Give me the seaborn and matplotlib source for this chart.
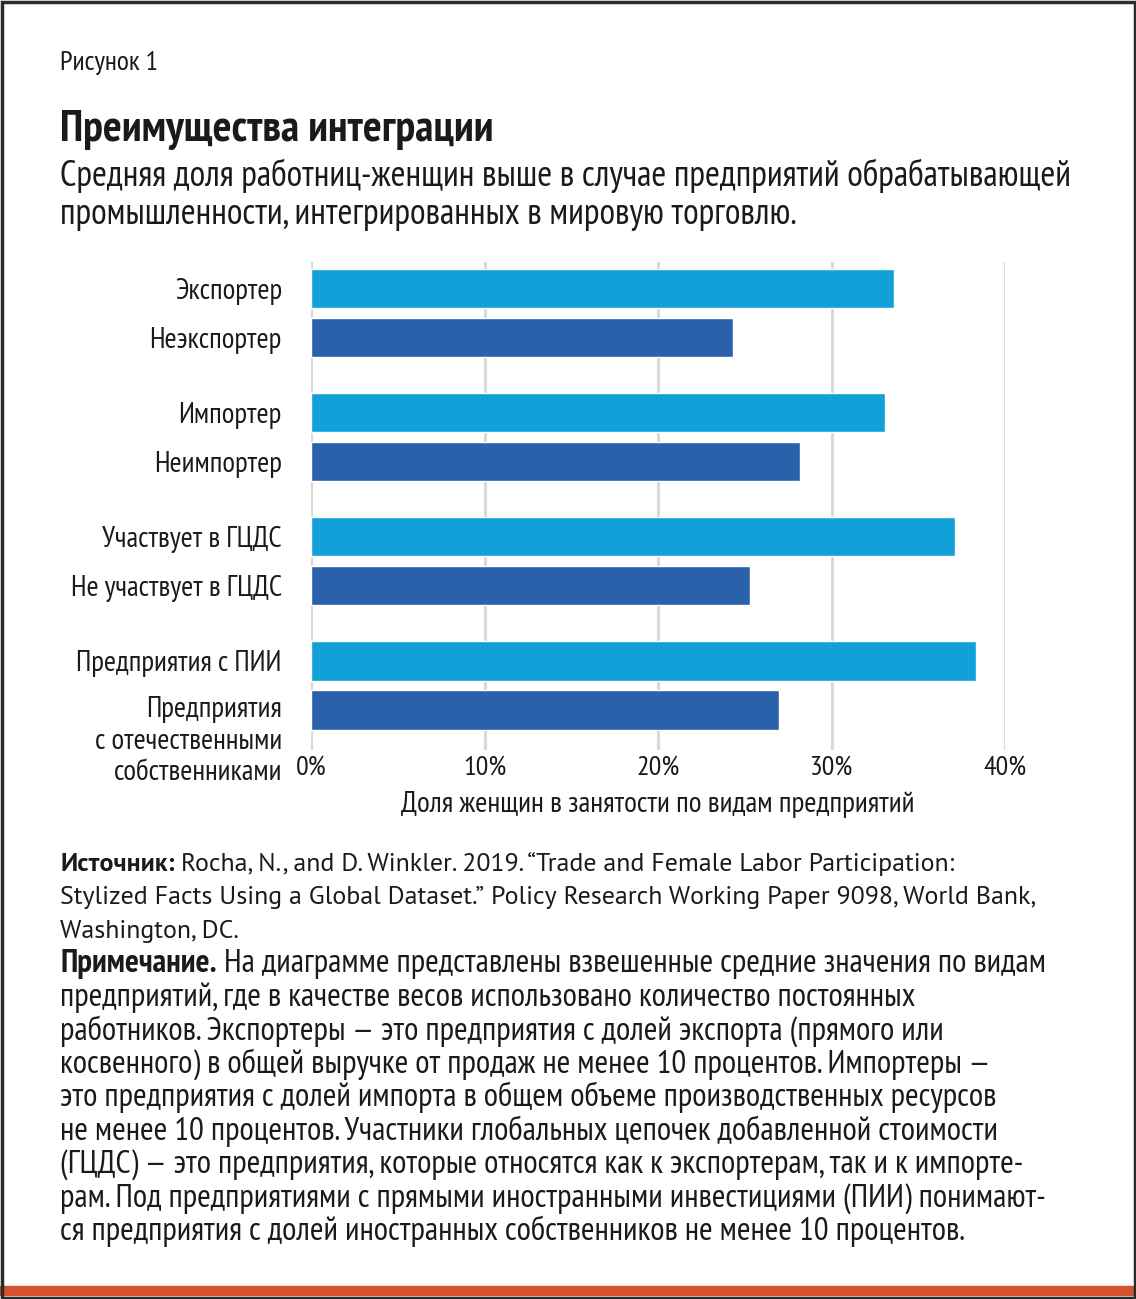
import numpy as np
import pandas as pd
import matplotlib
matplotlib.use('Agg')
import matplotlib.pyplot as plt
import seaborn as sns
from matplotlib.ticker import FuncFormatter
from matplotlib.patches import Rectangle
from matplotlib.transforms import offset_copy

# data (share of women in employment, %)
groups = ['Экспорт', 'Импорт', 'ГЦДС', 'ПИИ']
integrated_labels = ['Экспортер', 'Импортер', 'Участвует в ГЦДС', 'Предприятия с ПИИ']
other_labels = ['Неэкспортер', 'Неимпортер', 'Не участвует в ГЦДС',
                'Предприятия\nс отечественными\nсобственниками']
integrated_share = [33.6, 33.1, 37.1, 38.3]
other_share = [24.3, 28.2, 25.3, 27.0]
x_ticks = [0, 10, 20, 30, 40]

fig_label = 'Рисунок 1'
title = 'Преимущества интеграции'
subtitle = ['Средняя доля работниц-женщин выше в случае предприятий обрабатывающей',
            'промышленности, интегрированных в мировую торговлю.']
x_label = 'Доля женщин в занятости по видам предприятий'
source_lines = [
    ('Источник:', ' Rocha, N., and D. Winkler. 2019. “Trade and Female Labor Participation:'),
    ('', 'Stylized Facts Using a Global Dataset.” Policy Research Working Paper 9098, World Bank,'),
    ('', 'Washington, DC.'),
]
note_lines = [
    ('Примечание.', ' На диаграмме представлены взвешенные средние значения по видам'),
    ('', 'предприятий, где в качестве весов использовано количество постоянных'),
    ('', 'работников. Экспортеры — это предприятия с долей экспорта (прямого или'),
    ('', 'косвенного) в общей выручке от продаж не менее 10 процентов. Импортеры —'),
    ('', 'это предприятия с долей импорта в общем объеме производственных ресурсов'),
    ('', 'не менее 10 процентов. Участники глобальных цепочек добавленной стоимости'),
    ('', '(ГЦДС) — это предприятия, которые относятся как к экспортерам, так и к импорте-'),
    ('', 'рам. Под предприятиями с прямыми иностранными инвестициями (ПИИ) понимают-'),
    ('', 'ся предприятия с долей иностранных собственников не менее 10 процентов.'),
]

df = pd.DataFrame({
    'group': groups * 2,
    'kind': ['integrated'] * len(groups) + ['other'] * len(groups),
    'share': integrated_share + other_share,
})

sns.set_style('white')
narrow = ['PT Sans Narrow', 'Roboto Condensed', 'DejaVu Sans']
regular = ['PT Sans', 'Lato', 'DejaVu Sans']
plt.rcParams['font.family'] = narrow
plt.rcParams['text.color'] = '#1a1a1a'
plt.rcParams['xtick.color'] = '#1a1a1a'
plt.rcParams['ytick.color'] = '#1a1a1a'
plt.rcParams['axes.labelcolor'] = '#1a1a1a'

W, H = 1136, 1299
fig = plt.figure(figsize=(W / 100, H / 100), dpi=100)
fig.patch.set_facecolor('white')
renderer = fig.canvas.get_renderer()


def text_width(s, size, weight='normal', family=narrow):
    t = fig.text(0, 0, s, fontsize=size, fontweight=weight, family=family)
    w = t.get_window_extent(renderer=renderer).width
    t.remove()
    return w


def fit_size(parts, target_px, family=narrow, ref=20):
    # parts: list of (text, weight); size so the joined run spans target_px
    w = sum(text_width(s, ref, wt, family) for s, wt in parts if s)
    return ref * target_px / w


label_size = fit_size([('Не участвует в ГЦДС', 'normal')], 210)
tick_size = fit_size([('40%', 'normal')], 43)
xlabel_size = fit_size([(x_label, 'normal')], 511)
figlab_size = fit_size([(fig_label, 'normal')], 98)
title_size = fit_size([(title, 'bold')], 435)
sub_size = fit_size([(subtitle[0], 'normal')], 1006)
src_size = fit_size([(source_lines[0][0], 'bold'), (source_lines[0][1], 'normal')], 895, regular)
note_size = fit_size([(note_lines[0][0], 'bold'), (note_lines[0][1], 'normal')], 980)

# chart area in pixels: left 311, right 1005, top 262, bottom 750
ax = fig.add_axes([311 / W, 1 - 750 / H, (1005 - 311) / W, (750 - 262) / H])

light, dark = '#12A0D8', '#2A61AB'
bar_width = 0.79
sns.barplot(data=df, y='group', x='share', hue='kind', hue_order=['integrated', 'other'],
            palette=[light, dark], orient='h', width=bar_width, gap=0.2,
            saturation=1, legend=False, ax=ax)

ax.set_xlim(0, 40)
ax.set_ylim(3.52, -0.41)
ax.set_xticks(x_ticks)
ax.xaxis.set_major_formatter(FuncFormatter(lambda v, p: f'{v:.0f}%'))
ax.xaxis.grid(True, color='#d9d9d9', lw=2.2)
ax.yaxis.grid(False)
ax.set_axisbelow(True)
for s in ax.spines.values():
    s.set_visible(False)

# one tick label per bar
off = bar_width / 4
yt, yl = [], []
for i in range(len(groups)):
    yt += [i - off, i + off]
    yl += [integrated_labels[i], other_labels[i]]
ax.set_yticks(yt)
ax.set_yticklabels([l if '\n' not in l else '' for l in yl])
ax.tick_params(axis='y', length=0, pad=21, labelsize=label_size)
ax.tick_params(axis='x', length=0, pad=4, labelsize=tick_size)
ax.set_ylabel('')
ax.set_xlabel(x_label, fontsize=xlabel_size, labelpad=8)

# the three-line label: first line level with its bar, then 31.5 px per line
for y, l in zip(yt, yl):
    if '\n' in l:
        for k, part in enumerate(l.split('\n')):
            tr = offset_copy(ax.get_yaxis_transform(), fig=fig, x=-29, y=-31.5 * k, units='dots')
            ax.text(0, y, part, transform=tr, ha='right', va='center', fontsize=label_size)

# header texts
fig.text(60 / W, 1 - 70 / H, fig_label, fontsize=figlab_size)
fig.text(60 / W, 1 - 141 / H, title, fontsize=title_size, fontweight='bold')
for k, line in enumerate(subtitle):
    fig.text(60 / W, 1 - (186 + 38 * k) / H, line, fontsize=sub_size)


# source and note with bold lead-ins
def lead_line(y_px, bold, rest, family, size):
    x = 60 / W
    if bold:
        t = fig.text(x, 1 - y_px / H, bold, fontsize=size, fontweight='bold', family=family)
        x = t.get_window_extent(renderer=renderer).x1 / W
    fig.text(x, 1 - y_px / H, rest, fontsize=size, family=family)


pitch = 33.45
row = 0
for bold, rest in source_lines:
    lead_line(871 + pitch * row, bold, rest, regular, src_size)
    row += 1
for bold, rest in note_lines:
    lead_line(872 + pitch * row, bold, rest, narrow, note_size)
    row += 1

# frame and bottom stripe
fig.patches.append(Rectangle((0, 1 - 1295 / H), 1, 9 / H, transform=fig.transFigure,
                             color='#D4532E', zorder=0))
fig.patches.append(Rectangle((1.5 / W, 1.5 / H), 1 - 3 / W, 1 - 3 / H, transform=fig.transFigure,
                             fill=False, edgecolor='#2b2b2b', lw=2.5, zorder=5))

fig.savefig('out.png', dpi=100, facecolor='white')
